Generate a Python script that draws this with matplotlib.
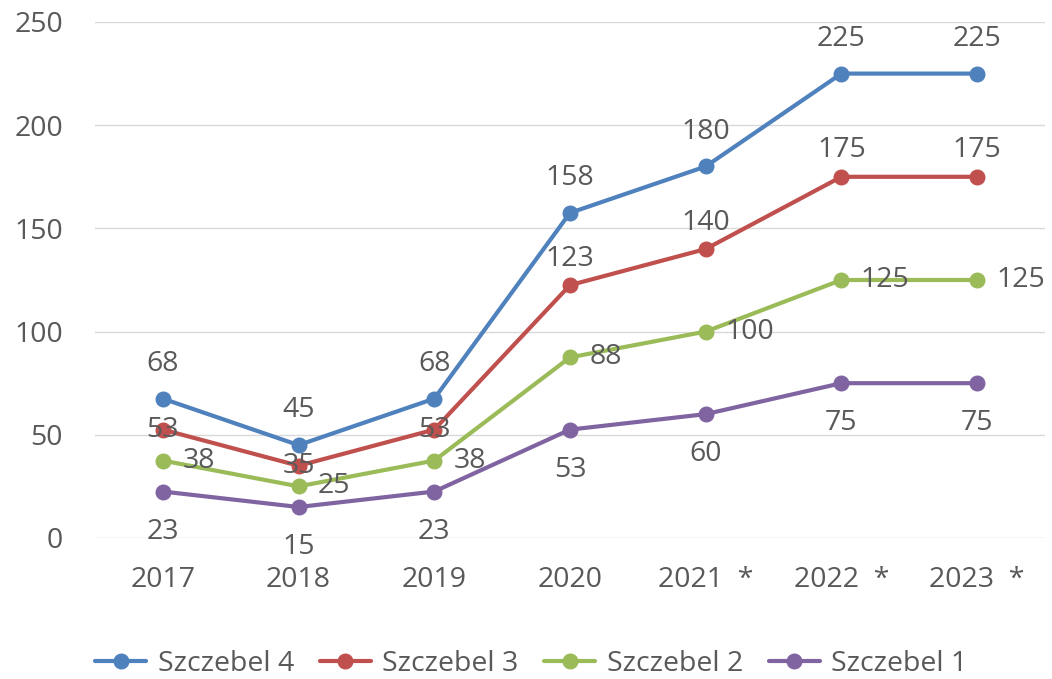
import math
import matplotlib
matplotlib.use("Agg")
import matplotlib.pyplot as plt

years = ["2017", "2018", "2019", "2020", "2021  *", "2022  *", "2023  *"]
szczebel4 = [67.5, 45, 67.5, 157.5, 180, 225, 225]
szczebel3 = [52.5, 35, 52.5, 122.5, 140, 175, 175]
szczebel2 = [37.5, 25, 37.5, 87.5, 100, 125, 125]
szczebel1 = [22.5, 15, 22.5, 52.5, 60, 75, 75]

plt.rcParams['font.family'] = ['Open Sans', 'DejaVu Sans']
txt = '#595959'
fs = 20.5

fig = plt.figure(figsize=(10.52, 6.79), dpi=100)
ax = fig.add_axes([0.0903, 0.2077, 0.9030, 0.7599])

x = list(range(len(years)))


def lab(v):
    return str(math.floor(v + 0.5))


series = [
    ("Szczebel 4", szczebel4, '#4F81BD'),
    ("Szczebel 3", szczebel3, '#C0504D'),
    ("Szczebel 2", szczebel2, '#9BBB59'),
    ("Szczebel 1", szczebel1, '#8064A2'),
]

for name, vals, col in series:
    ax.plot(x, vals, color=col, lw=3, marker='o', ms=10.5, label=name,
            solid_capstyle='round', zorder=3)

# data labels, offsets in points
for i, v in enumerate(szczebel4):
    ax.annotate(lab(v), (i, v), xytext=(0, 25), textcoords='offset points',
                ha='center', va='center', fontsize=fs, color=txt, zorder=5)
for i, v in enumerate(szczebel3):
    dy = 0 if i < 3 else 19
    ax.annotate(lab(v), (i, v), xytext=(0, dy), textcoords='offset points',
                ha='center', va='center', fontsize=fs, color=txt, zorder=5)
for i, v in enumerate(szczebel2):
    ax.annotate(lab(v), (i, v), xytext=(14, 0), textcoords='offset points',
                ha='left', va='center', fontsize=fs, color=txt, zorder=5)
for i, v in enumerate(szczebel1):
    ax.annotate(lab(v), (i, v), xytext=(0, -29), textcoords='offset points',
                ha='center', va='center', fontsize=fs, color=txt, zorder=5)

ax.set_xlim(-0.5, 6.5)
ax.set_ylim(0, 250)
ax.set_yticks(range(0, 251, 50))
ax.set_xticks(x)
ax.set_xticklabels(years)
ax.tick_params(axis='both', length=0, labelsize=fs, colors=txt)
ax.tick_params(axis='y', pad=23)
ax.tick_params(axis='x', pad=20)
ax.grid(axis='y', color='#D9D9D9', lw=1)
ax.set_axisbelow(True)
for s in ax.spines.values():
    s.set_visible(False)

fig.legend(loc='center', ncol=4, frameon=False, fontsize=fs,
           bbox_to_anchor=(0.505, 15 / 679), handlelength=1.8, handletextpad=0.4,
           columnspacing=0.9, labelcolor=txt)

fig.savefig("out.png", dpi=100)
